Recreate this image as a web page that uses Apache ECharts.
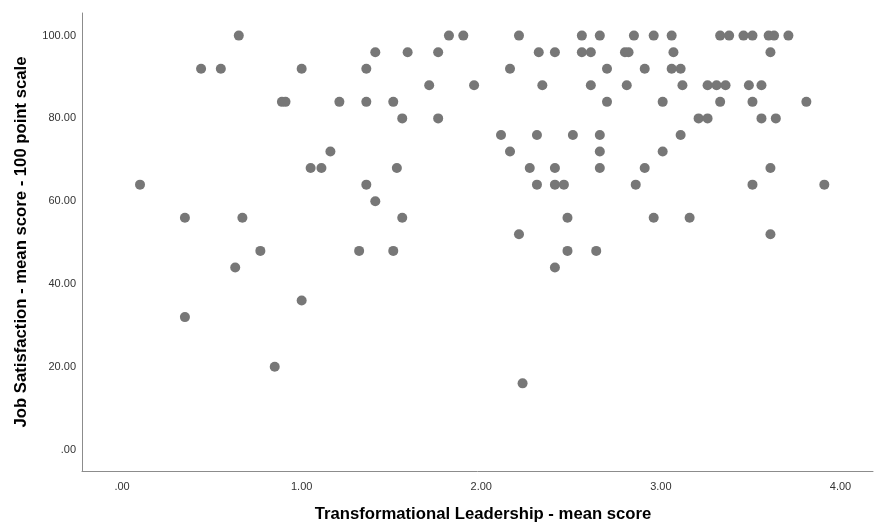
<!DOCTYPE html>
<html>
<head>
<meta charset="utf-8">
<script src="https://cdn.jsdelivr.net/npm/echarts@6/dist/echarts.min.js"></script>
<style>
  html, body { margin: 0; padding: 0; background: #fff; }
  #chart { width: 874px; height: 525px; }
</style>
</head>
<body>
<div id="chart"></div>
<script>
// Transformational leadership (mean score, 0-4) per respondent
const leadership = [
  0.10, 0.35, 0.35, 0.44, 0.55, 0.65, 0.67, 0.63, 0.77, 0.85,
  0.89, 0.91, 1.00, 1.00, 1.05, 1.11, 1.16, 1.21, 1.32, 1.36,
  1.36, 1.36, 1.41, 1.41, 1.51, 1.51, 1.53, 1.56, 1.56, 1.59,
  1.71, 1.76, 1.76, 1.82, 1.90, 1.96, 2.11, 2.16, 2.16, 2.21,
  2.21, 2.23, 2.27, 2.31, 2.31, 2.32, 2.34, 2.41, 2.41, 2.41,
  2.41, 2.46, 2.48, 2.48, 2.51, 2.56, 2.56, 2.61, 2.61, 2.64,
  2.66, 2.66, 2.66, 2.66, 2.70, 2.70, 2.80, 2.82, 2.81, 2.85,
  2.86, 2.91, 2.91, 2.96, 2.96, 3.01, 3.01, 3.06, 3.06, 3.07,
  3.11, 3.12, 3.11, 3.16, 3.21, 3.26, 3.26, 3.31, 3.33, 3.33,
  3.36, 3.38, 3.46, 3.49, 3.51, 3.51, 3.51, 3.56, 3.56, 3.60,
  3.61, 3.61, 3.61, 3.63, 3.64, 3.71, 3.81, 3.91
];

// Job satisfaction (mean score on a 100 point scale), same respondents
const satisfaction = [
  64, 56, 32, 92, 92, 100, 56, 44, 48, 20,
  84, 84, 92, 36, 68, 68, 72, 84, 48, 92,
  84, 64, 96, 60, 84, 48, 68, 80, 56, 96,
  88, 96, 80, 100, 100, 88, 76, 92, 72, 100,
  52, 16, 68, 76, 64, 96, 88, 96, 68, 64,
  44, 64, 56, 48, 76, 100, 96, 96, 88, 48,
  100, 76, 72, 68, 92, 84, 96, 96, 88, 100,
  64, 92, 68, 100, 56, 84, 72, 100, 92, 96,
  92, 88, 76, 56, 80, 80, 88, 88, 100, 84,
  88, 100, 100, 88, 100, 84, 64, 88, 80, 100,
  96, 68, 52, 100, 80, 100, 84, 64
];

// Labelled tick positions
const xTicks = [0, 1, 2, 3, 4];
const yTicks = [0, 20, 40, 60, 80, 100];

const points = leadership.map((x, i) => [x, satisfaction[i]]);

// ".00" style labels (no leading zero)
const fmt = v => (v === 0 ? '.00' : v.toFixed(2));

const axisLineStyle = { color: '#8c8c8c', width: 1 };
const tickLabel = {
  color: '#333',
  fontFamily: 'Liberation Sans, Arial, sans-serif',
  fontSize: 11
};
const titleStyle = {
  color: '#000',
  fontFamily: 'Liberation Sans, Arial, sans-serif',
  fontSize: 16.7,
  fontWeight: 'bold'
};

const chart = echarts.init(document.getElementById('chart'), null, { renderer: 'canvas' });

chart.setOption({
  animation: false,
  backgroundColor: '#fff',
  grid: {
    left: 82, top: 13, right: 1, bottom: 54,
    containLabel: false,
    outerBoundsMode: 'none'
  },
  xAxis: {
    type: 'value',
    min: -0.223,
    max: 4.181,
    name: 'Transformational Leadership - mean score',
    nameLocation: 'middle',
    nameGap: 35,
    nameTextStyle: Object.assign({ padding: [0, 0, 0, 11] }, titleStyle),
    axisLine: { show: true, onZero: false, lineStyle: axisLineStyle },
    axisTick: { show: false },
    splitLine: { show: false },
    axisLabel: Object.assign({ customValues: xTicks, formatter: fmt, margin: 10 }, tickLabel)
  },
  yAxis: {
    type: 'value',
    min: -5.17,
    max: 105.46,
    name: 'Job Satisfaction - mean score - 100 point scale',
    nameLocation: 'middle',
    nameGap: 52,
    nameTextStyle: titleStyle,
    axisLine: { show: true, onZero: false, lineStyle: axisLineStyle },
    axisTick: { show: false },
    splitLine: { show: false },
    axisLabel: Object.assign({ customValues: yTicks, formatter: fmt, margin: 6 }, tickLabel)
  },
  series: [{
    type: 'scatter',
    data: points,
    symbol: 'circle',
    symbolSize: 10,
    itemStyle: { color: '#777777', opacity: 1 },
    clip: false
  }]
});
</script>
</body>
</html>
